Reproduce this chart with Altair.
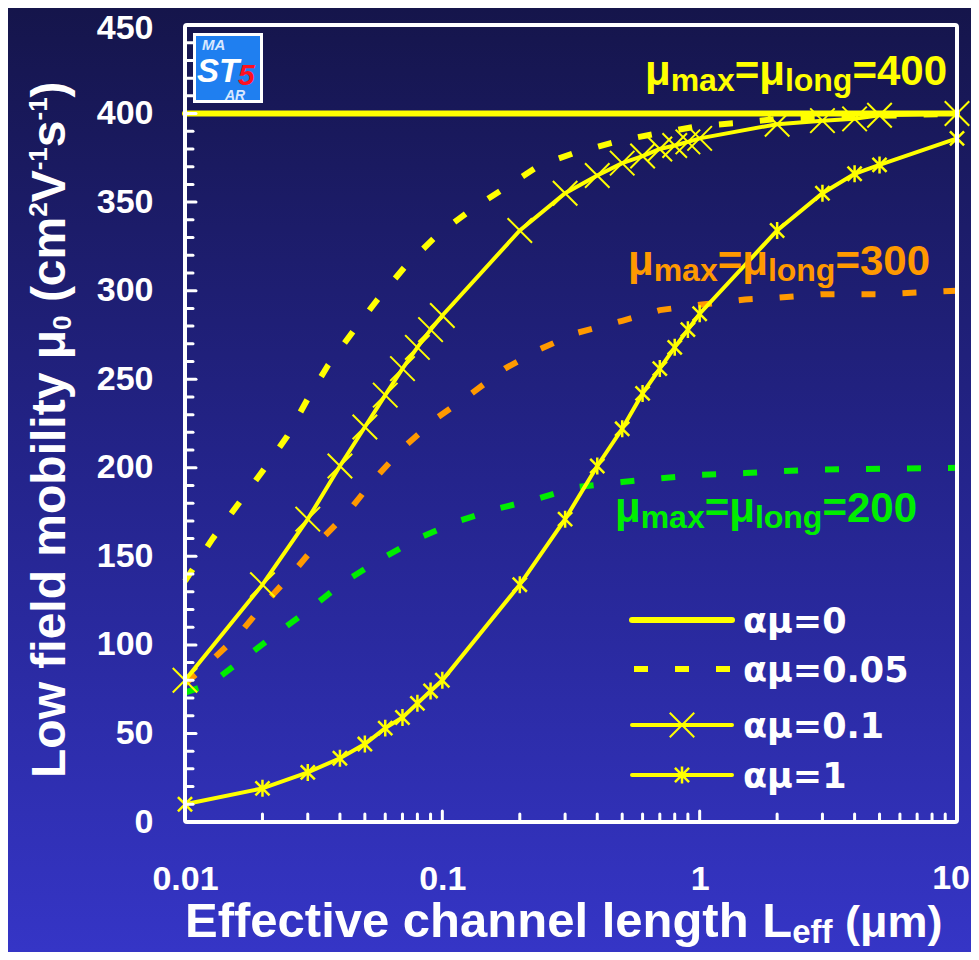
import altair as alt
import pandas as pd

# ---------------- data ----------------
L_MARK = [0.01, 0.02, 0.03, 0.04, 0.05, 0.06, 0.07, 0.08, 0.09, 0.1,
          0.2, 0.3, 0.4, 0.5, 0.6, 0.7, 0.8, 0.9, 1, 2, 3, 4, 5, 10]
MU_A01 = [80, 134, 171, 201, 223, 241, 256, 268, 278, 286,
          334, 355, 365, 372, 376, 380, 382, 384, 386, 394, 396, 397, 399, 400]
MU_A1 = [10, 19, 28, 36, 44, 53, 59, 67, 74, 80,
         134, 171, 201, 222, 242, 256, 268, 278, 287, 334, 355, 366, 371, 386]

L_A0 = [0.01, 10]
MU_A0 = [400, 400]

L_D400 = [0.01, 0.0128, 0.016, 0.02, 0.025, 0.03, 0.036, 0.045, 0.056, 0.072, 0.095,
          0.13, 0.175, 0.24, 0.33, 0.5, 0.7, 1, 1.5, 2, 3, 6, 10]
MU_D400 = [136, 160, 179, 198, 218, 239, 258, 277, 295, 314, 331,
           346, 358, 371, 378, 385, 389, 393, 395, 397, 398, 399, 400]

L_D300 = [0.01, 0.012, 0.016, 0.02, 0.026, 0.033, 0.043, 0.054, 0.07, 0.095, 0.13,
          0.175, 0.24, 0.33, 0.5, 0.7, 1, 1.5, 2, 3, 5, 10]
MU_D300 = [78, 88, 105, 122, 140, 158, 175, 193, 211, 228, 242,
           256, 267, 276, 283, 289, 292, 295, 296, 298, 298, 300]

L_D200 = [0.01, 0.0126, 0.0168, 0.023, 0.031, 0.041, 0.057, 0.08, 0.116, 0.165,
          0.24, 0.33, 0.5, 0.7, 1, 1.5, 2, 3, 10]
MU_D200 = [73, 78, 92, 107, 121, 135, 148, 160, 170, 177,
           183, 189, 192, 194, 196, 197, 198, 199, 200]

X_TICKS = [0.01, 0.1, 1, 10]
Y_TICKS = [0, 50, 100, 150, 200, 250, 300, 350, 400, 450]
X_MINOR = [m * d for d in (0.01, 0.1, 1) for m in range(2, 10)]
X_MAJOR_INNER = [0.1, 1]
Y_MINOR = [v for v in range(10, 450, 10) if v % 50 != 0]
Y_MAJOR_INNER = [50, 100, 150, 200, 250, 300, 350, 400]

LEGEND_LABELS = ["αμ=0", "αμ=0.05", "αμ=0.1", "αμ=1"]

# ---------------- layout ----------------
W, H = 772, 797
PAD = {"left": 177, "top": 17, "right": 14, "bottom": 130}
FONT = "Liberation Sans"
YEL, ORA, GRN, WHITE = "#ffff00", "#ff9900", "#00ee00", "#ffffff"

one = pd.DataFrame({"k": [0]})

xscale = alt.Scale(type="log", domain=[0.01, 10], nice=False)
yscale = alt.Scale(domain=[0, 450], nice=False, zero=False)

XLAB = dict(font=FONT, fontSize=34, fontWeight="bold", color=WHITE)
xaxis = alt.Axis(values=X_TICKS[:-1], format="~g", labelFont=FONT, labelFontSize=34,
                 labelFontWeight="bold", labelColor=WHITE, labelPadding=40,
                 ticks=False, domain=False, grid=False, title=None,
                 labelOverlap=False, labelFlush=False, zindex=1)
yaxis = alt.Axis(values=Y_TICKS, labelFont=FONT, labelFontSize=34,
                 labelFontWeight="bold", labelColor=WHITE, labelPadding=32,
                 labelOffset={"condition": {"test": "datum.value == 450", "value": 3},
                              "value": 0},
                 ticks=False, domain=False, grid=False, title=None, zindex=1)

X = alt.X("L:Q", scale=xscale, axis=xaxis)
Y = alt.Y("mu:Q", scale=yscale, axis=yaxis)


def df(xs, ys):
    return pd.DataFrame({"L": xs, "mu": ys})


layers = []

# background gradient
grad = alt.LinearGradient(gradient="linear", x1=0, y1=0, x2=0, y2=1,
                          stops=[alt.GradientStop(offset=0, color="#15154b"),
                                 alt.GradientStop(offset=0.5, color="#24248c"),
                                 alt.GradientStop(offset=1, color="#3535c6")])
layers.append(alt.Chart(one).mark_rect(fill=grad, strokeWidth=0).encode(
    x=alt.value(-PAD["left"]), x2=alt.value(W + PAD["right"]),
    y=alt.value(-PAD["top"]), y2=alt.value(H + PAD["bottom"])))

# data lines
dash = [14, 27]
layers.append(alt.Chart(df(L_D300, MU_D300)).mark_line(
    color=ORA, strokeWidth=6, strokeDash=dash, strokeCap="butt").encode(x=X, y=Y))
layers.append(alt.Chart(df(L_D200, MU_D200)).mark_line(
    color=GRN, strokeWidth=6, strokeDash=dash, strokeCap="butt").encode(x=X, y=Y))
layers.append(alt.Chart(df(L_D400, MU_D400)).mark_line(
    color=YEL, strokeWidth=6, strokeDash=dash, strokeCap="butt").encode(x=X, y=Y))
layers.append(alt.Chart(df(L_A0, MU_A0)).mark_line(
    color=YEL, strokeWidth=6, strokeCap="round").encode(x=X, y=Y))

XPATH = "M -1 -1 L 1 1 M -1 1 L 1 -1"
STAR = "M -1 -1 L 1 1 M -1 1 L 1 -1 M 0 -1.2 L 0 1.2"

layers.append(alt.Chart(df(L_MARK, MU_A01)).mark_line(
    color=YEL, strokeWidth=4).encode(x=X, y=Y))
layers.append(alt.Chart(df(L_MARK, MU_A01)).mark_point(
    shape=XPATH, size=600, filled=False, color=YEL, strokeWidth=2, opacity=1).encode(x=X, y=Y))
layers.append(alt.Chart(df(L_MARK, MU_A1)).mark_line(
    color=YEL, strokeWidth=4).encode(x=X, y=Y))
layers.append(alt.Chart(df(L_MARK, MU_A1)).mark_point(
    shape=STAR, size=200, filled=False, color=YEL, strokeWidth=2.5, opacity=1).encode(x=X, y=Y))

# inward ticks
tick_style = dict(color=WHITE, strokeWidth=3, strokeCap="round")
layers.append(alt.Chart(pd.DataFrame({"mu": Y_MINOR})).mark_rule(**tick_style).encode(
    y=Y, x=alt.value(0), x2=alt.value(8)))
layers.append(alt.Chart(pd.DataFrame({"mu": Y_MAJOR_INNER})).mark_rule(**tick_style).encode(
    y=Y, x=alt.value(0), x2=alt.value(11)))
layers.append(alt.Chart(pd.DataFrame({"L": X_MINOR})).mark_rule(**tick_style).encode(
    x=X, y=alt.value(H), y2=alt.value(H - 8)))
layers.append(alt.Chart(pd.DataFrame({"L": X_MAJOR_INNER})).mark_rule(**tick_style).encode(
    x=X, y=alt.value(H), y2=alt.value(H - 11)))

# last x tick label (kept inside the page edge)
layers.append(alt.Chart(pd.DataFrame({"L": X_TICKS[-1:], "t": ["10"]})).mark_text(
    align="right", baseline="top", dx=13, **XLAB).encode(
    x=X, y=alt.value(H + 40), text="t:N"))

# frame
layers.append(alt.Chart(one).mark_rect(filled=False, stroke=WHITE, strokeWidth=4,
                                       cornerRadius=2).encode(
    x=alt.value(0), x2=alt.value(W), y=alt.value(0), y2=alt.value(H)))

# ---------------- rich text helpers ----------------
WID = {'μ': .611, 'm': .889, 'a': .556, 'x': .556, '=': .584, 'l': .278, 'o': .611,
       'n': .611, 'g': .611, 'E': .667, 'f': .333, 'e': .556, 'c': .556, 't': .333,
       'i': .278, 'v': .556, ' ': .278, 'h': .611, 'L': .611, '(': .333, ')': .333,
       'w': .778, 'd': .611, 'b': .611, 'y': .556, 's': .556, 'V': .667, '-': .333,
       '0': .556, '1': .556, '2': .556, '3': .556, '4': .556, '5': .556, '.': .278}


def tw(s, fs):
    return sum(WID.get(c, .6) for c in s) * fs


def rich(pieces, x0, yb, color, font=FONT):
    out = []
    x = x0
    for txt, fs, dy in pieces:
        lead = len(txt) - len(txt.lstrip(" "))
        x += lead * WID[' '] * fs
        body = txt.lstrip(" ")
        out.append(alt.Chart(one).mark_text(
            text=body, font=font, fontSize=fs, fontWeight="bold", color=color,
            align="left", baseline="alphabetic").encode(
            x=alt.value(x), y=alt.value(yb + dy)))
        x += tw(body, fs)
    return out


def rich_up(pieces, xb, y0, color, font=FONT):
    """Text rotated 270 deg, reading upward from y0; dx shifts the baseline."""
    out = []
    y = y0
    for txt, fs, dx in pieces:
        lead = len(txt) - len(txt.lstrip(" "))
        y -= lead * WID[' '] * fs
        body = txt.lstrip(" ")
        out.append(alt.Chart(one).mark_text(
            text=body, font=font, fontSize=fs, fontWeight="bold", color=color,
            align="left", baseline="alphabetic", angle=270).encode(
            x=alt.value(xb + dx), y=alt.value(y)))
        y -= tw(body, fs)
    return out


def ann(value, x0, yb, color):
    return rich([("μ", 42, 0), ("max", 32, 6), ("=μ", 42, 0), ("long", 32, 6),
                 ("=" + value, 42, 0)], x0, yb, color)


layers += ann("400", 460, 60, YEL)
layers += ann("300", 443, 250, ORA)
layers += ann("200", 430, 497, GRN)

# x title with subscript
layers += rich([("Effective channel length L", 49, 0), ("eff", 33, 6), (" (μm)", 45, 0)],
               0, 912, WHITE)

# y title with sub/superscripts
layers += rich_up([("Low field mobility μ", 48, 0), ("0", 26, 6), (" (cm", 48, 0),
                   ("2", 26, -18), ("V", 48, 0), ("-1", 26, -18), ("s", 48, 0),
                   ("-1", 26, -18), (")", 48, 0)], -120, 753, WHITE)

# ---------------- legend ----------------
LX0, LX1, LTX = 447, 547, 558
ROW_Y = [595, 644, 700, 750]
LFONT = "DejaVu Sans"
layers.append(alt.Chart(one).mark_rule(color=YEL, strokeWidth=6, strokeCap="round").encode(
    x=alt.value(LX0), x2=alt.value(LX1), y=alt.value(ROW_Y[0])))
layers.append(alt.Chart(one).mark_rule(color=YEL, strokeWidth=6, strokeDash=[14, 27],
                                       strokeCap="butt").encode(
    x=alt.value(LX0 + 2), x2=alt.value(LX1), y=alt.value(ROW_Y[1])))
layers.append(alt.Chart(one).mark_rule(color=YEL, strokeWidth=4, strokeCap="round").encode(
    x=alt.value(LX0), x2=alt.value(LX1), y=alt.value(ROW_Y[2])))
layers.append(alt.Chart(one).mark_point(shape=XPATH, size=600, filled=False, color=YEL,
                                        strokeWidth=2, opacity=1).encode(
    x=alt.value((LX0 + LX1) / 2), y=alt.value(ROW_Y[2])))
layers.append(alt.Chart(one).mark_rule(color=YEL, strokeWidth=4, strokeCap="round").encode(
    x=alt.value(LX0), x2=alt.value(LX1), y=alt.value(ROW_Y[3])))
layers.append(alt.Chart(one).mark_point(shape=STAR, size=200, filled=False, color=YEL,
                                        strokeWidth=2.5, opacity=1).encode(
    x=alt.value((LX0 + LX1) / 2), y=alt.value(ROW_Y[3])))
for lab, ry in zip(LEGEND_LABELS, ROW_Y):
    layers.append(alt.Chart(one).mark_text(
        text=lab, font=LFONT, fontSize=35, fontWeight="bold", color=WHITE,
        align="left", baseline="middle").encode(x=alt.value(LTX), y=alt.value(ry + 2)))

# ---------------- logo ----------------
layers.append(alt.Chart(one).mark_rect(fill=WHITE).encode(
    x=alt.value(8), x2=alt.value(78), y=alt.value(8), y2=alt.value(78)))
layers.append(alt.Chart(one).mark_rect(fill="#1f7ff0").encode(
    x=alt.value(11), x2=alt.value(75), y=alt.value(11), y2=alt.value(75)))
for txt, fs, xx, yy, col in [("MA", 15, 17, 25, "#d8e8ff"), ("ST", 33, 12, 57, WHITE),
                             ("5", 30, 53, 60, "#ff1020"), ("AR", 14, 40, 75, "#d8e8ff")]:
    layers.append(alt.Chart(one).mark_text(
        text=txt, font=FONT, fontSize=fs, fontStyle="italic", fontWeight="bold",
        color=col, align="left", baseline="alphabetic").encode(
        x=alt.value(xx), y=alt.value(yy)))

chart = alt.layer(*layers).properties(
    width=W, height=H, padding=PAD,
    autosize=alt.AutoSizeParams(type="none"),
    background="#2a2aa0",
).configure_view(strokeWidth=0)

chart.save("out.html", embed_options={"renderer": "svg", "actions": False})
